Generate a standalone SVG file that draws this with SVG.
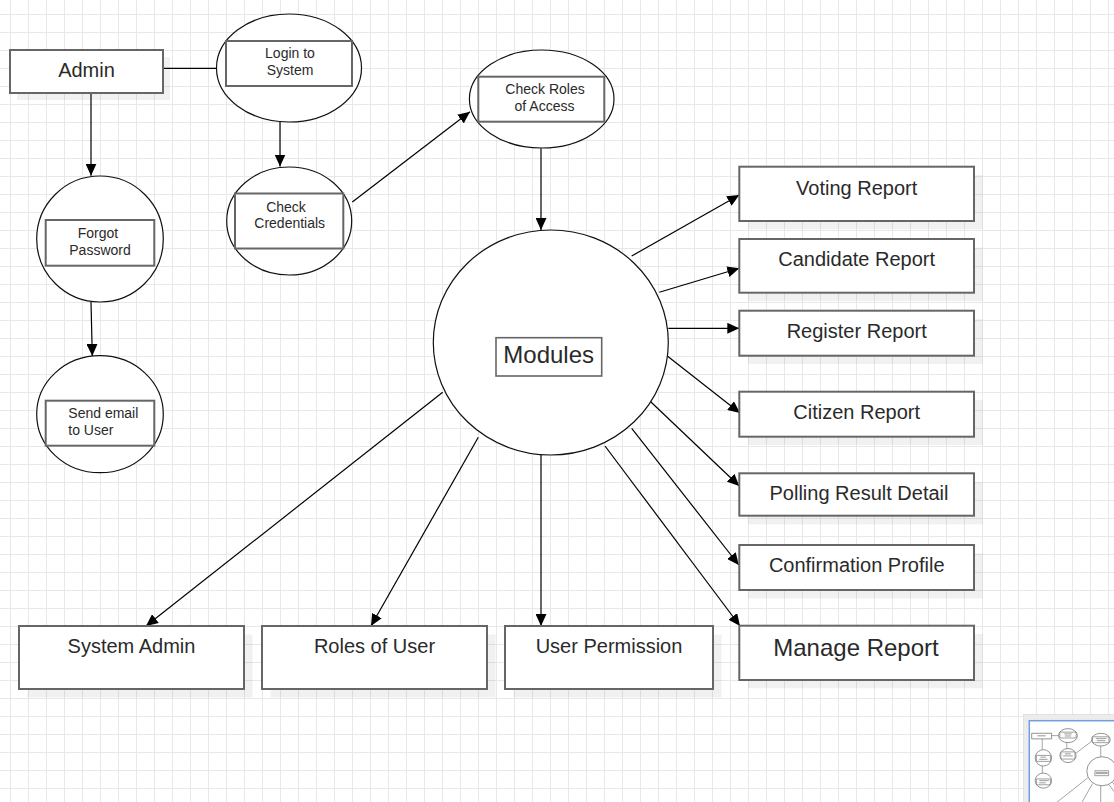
<svg xmlns="http://www.w3.org/2000/svg" width="1114" height="802" viewBox="0 0 1114 802">
<defs>
<style>
.box{fill:#fff;stroke:#666;stroke-width:2}
.shadow{fill:#000;opacity:0.055}
.ell{fill:#fff;stroke:#111;stroke-width:1.2}
.inner{fill:none;stroke:#666;stroke-width:2}
.edge{fill:none;stroke:#000;stroke-width:1.2}
.arr{marker-end:url(#arrow)}
.t{font-family:"Liberation Sans",Arial,Helvetica,sans-serif;fill:#2a2a2a}
.s14{font-size:14px}
.s20{font-size:20px}
.s24{font-size:24px}
.mm{fill:#fff;stroke:#777;stroke-width:0.8;vector-effect:non-scaling-stroke}
.mmi{fill:none;stroke:#888;stroke-width:0.8;vector-effect:non-scaling-stroke}
.mml{fill:none;stroke:#666;stroke-width:0.6;vector-effect:non-scaling-stroke}
.mmt{fill:#aaa}
</style>
<pattern id="grid" patternUnits="userSpaceOnUse" x="10" y="14" width="18" height="18">
<path d="M0.5,0 V18 M0,0.5 H18" fill="none" stroke="#e8e8e8" stroke-width="1"/>
</pattern>
<marker id="arrow" markerUnits="userSpaceOnUse" markerWidth="13" markerHeight="11" refX="12" refY="5.5" orient="auto">
<path d="M0,0 L12,5.5 L0,11 Z" fill="#000"/>
</marker>
<clipPath id="mmclip"><rect x="1023" y="714" width="91" height="88"/></clipPath>
</defs>

<rect x="0" y="0" width="1114" height="802" fill="#fff"/>
<rect x="0" y="0" width="1114" height="802" fill="url(#grid)"/>

<g id="connectors">
<path class="edge" d="M163,68.3 L216.7,68.3"/>
<path class="edge arr" d="M91,93 L91,175.7"/>
<path class="edge arr" d="M91,302 L92.3,356"/>
<path class="edge arr" d="M280,122 L280,166.5"/>
<path class="edge arr" d="M352.3,202 L470,111.7"/>
<path class="edge arr" d="M541,148.3 L541,230"/>
<path class="edge arr" d="M631.7,256 L739.3,195"/>
<path class="edge arr" d="M659.3,292.3 L739.3,268.3"/>
<path class="edge arr" d="M668.3,328.3 L739.3,328.3"/>
<path class="edge arr" d="M667.3,356 L740,413"/>
<path class="edge arr" d="M650.7,401.7 L739.3,486"/>
<path class="edge arr" d="M631.7,428.3 L738.8,565"/>
<path class="edge arr" d="M605,446 L740,626"/>
<path class="edge arr" d="M442.7,392.3 L146,626"/>
<path class="edge arr" d="M478.3,437.3 L371,626"/>
<path class="edge arr" d="M541,455 L541,626"/>
</g>

<g id="admin">
<rect class="shadow" x="17" y="57" width="153" height="43"/>
<rect class="box" x="10" y="50" width="153" height="43"/>
<text class="t s20" x="86.5" y="77" text-anchor="middle">Admin</text>
</g>

<g id="login">
<ellipse class="ell" cx="289" cy="68" rx="72.5" ry="54"/>
<rect class="inner" x="226" y="41" width="126" height="45"/>
<text class="t s14" x="290" y="58.3" text-anchor="middle">Login to</text>
<text class="t s14" x="290" y="75" text-anchor="middle">System</text>
</g>

<g id="check-credentials">
<ellipse class="ell" cx="289.2" cy="221" rx="62.5" ry="54"/>
<rect class="inner" x="235" y="193.5" width="108.3" height="55"/>
<text class="t s14" x="286" y="211.7" text-anchor="middle">Check</text>
<text class="t s14" x="289.7" y="228.3" text-anchor="middle">Credentials</text>
</g>

<g id="check-roles">
<ellipse class="ell" cx="541.7" cy="99" rx="72.3" ry="49"/>
<rect class="inner" x="478.3" y="76.7" width="126" height="45"/>
<text class="t s14" x="545" y="94.3" text-anchor="middle">Check Roles</text>
<text class="t s14" x="544.5" y="111" text-anchor="middle">of Access</text>
</g>

<g id="forgot-password">
<ellipse class="ell" cx="100" cy="239" rx="63.3" ry="63"/>
<rect class="inner" x="45.7" y="220" width="108.6" height="45.7"/>
<text class="t s14" x="98" y="238.3" text-anchor="middle">Forgot</text>
<text class="t s14" x="100" y="255" text-anchor="middle">Password</text>
</g>

<g id="send-email">
<ellipse class="ell" cx="100" cy="414.2" rx="63.3" ry="58.5"/>
<rect class="inner" x="45.7" y="400.7" width="108.6" height="45"/>
<text class="t s14" x="68.3" y="418.3">Send email</text>
<text class="t s14" x="68.3" y="435">to User</text>
</g>

<g id="modules">
<ellipse class="ell" cx="550.8" cy="342.5" rx="117.5" ry="112.5"/>
<rect class="inner" x="496" y="337.7" width="105.7" height="38.3" style="stroke-width:1.6"/>
<text class="t s24" x="548.7" y="363" text-anchor="middle">Modules</text>
</g>

<g id="voting-report">
<rect class="shadow" x="748" y="175" width="234.7" height="54.3"/>
<rect class="box" x="739.3" y="166.7" width="234.7" height="54.3"/>
<text class="t s20" x="856.7" y="194.5" text-anchor="middle">Voting Report</text>
</g>
<g id="candidate-report">
<rect class="shadow" x="748" y="247.5" width="234.7" height="53.7"/>
<rect class="box" x="739.3" y="239" width="234.7" height="53.7"/>
<text class="t s20" x="856.7" y="266" text-anchor="middle">Candidate Report</text>
</g>
<g id="register-report">
<rect class="shadow" x="748" y="319" width="234.7" height="45"/>
<rect class="box" x="739.3" y="310.7" width="234.7" height="45"/>
<text class="t s20" x="856.7" y="338.3" text-anchor="middle">Register Report</text>
</g>
<g id="citizen-report">
<rect class="shadow" x="748" y="400" width="234.7" height="45"/>
<rect class="box" x="739.3" y="391.7" width="234.7" height="45"/>
<text class="t s20" x="856.7" y="419.3" text-anchor="middle">Citizen Report</text>
</g>
<g id="polling-result-detail">
<rect class="shadow" x="748" y="482" width="234.7" height="42.4"/>
<rect class="box" x="739.3" y="473.3" width="234.7" height="42.4"/>
<text class="t s20" x="859" y="500" text-anchor="middle">Polling Result Detail</text>
</g>
<g id="confirmation-profile">
<rect class="shadow" x="748" y="553.5" width="234.7" height="45"/>
<rect class="box" x="739.3" y="545" width="234.7" height="45"/>
<text class="t s20" x="856.7" y="571.7" text-anchor="middle">Confirmation Profile</text>
</g>
<g id="manage-report">
<rect class="shadow" x="748" y="634" width="234.7" height="54.3"/>
<rect class="box" x="739.3" y="625.7" width="234.7" height="54.3"/>
<text class="t s24" x="856" y="656" text-anchor="middle">Manage Report</text>
</g>

<g id="system-admin">
<rect class="shadow" x="27.5" y="634.5" width="225" height="63"/>
<rect class="box" x="19" y="626" width="225" height="63"/>
<text class="t s20" x="131.5" y="653" text-anchor="middle">System Admin</text>
</g>
<g id="roles-of-user">
<rect class="shadow" x="270.5" y="634.5" width="225" height="63"/>
<rect class="box" x="262" y="626" width="225" height="63"/>
<text class="t s20" x="374.5" y="653" text-anchor="middle">Roles of User</text>
</g>
<g id="user-permission">
<rect class="shadow" x="513.5" y="634.5" width="208" height="63"/>
<rect class="box" x="505" y="626" width="208" height="63"/>
<text class="t s20" x="609" y="653" text-anchor="middle">User Permission</text>
</g>

<g id="minimap" clip-path="url(#mmclip)">
<rect x="1023" y="714" width="120" height="120" fill="#ececec" stroke="#d6d6d6" stroke-width="1"/>
<rect x="1029.3" y="720.7" width="120" height="120" fill="#fff" stroke="#6f9fe0" stroke-width="1.5"/>
<g transform="translate(1030.4,726.8) scale(0.13)">
<path class="mml" d="M163,68 L217,68 M91,93 L91,176 M91,302 L92,356 M280,122 L280,167 M352,202 L470,112 M541,148 L541,230 M442,392 L146,626 M478,437 L371,626 M541,455 L541,626 M605,446 L740,626 M632,428 L739,565 M651,402 L739,486"/>
<rect class="mm" x="10" y="50" width="153" height="43"/>
<ellipse class="mm" cx="289" cy="68" rx="72.5" ry="54"/>
<rect class="mmi" x="226" y="41" width="126" height="45"/>
<ellipse class="mm" cx="289" cy="221" rx="62.5" ry="54"/>
<rect class="mmi" x="235" y="193" width="108" height="55"/>
<ellipse class="mm" cx="542" cy="99" rx="72" ry="49"/>
<rect class="mmi" x="478" y="77" width="126" height="45"/>
<ellipse class="mm" cx="100" cy="239" rx="63" ry="63"/>
<rect class="mmi" x="46" y="220" width="108" height="46"/>
<ellipse class="mm" cx="100" cy="414" rx="63" ry="58"/>
<rect class="mmi" x="46" y="401" width="108" height="45"/>
<ellipse class="mm" cx="551" cy="342" rx="117" ry="112"/>
<rect class="mmi" x="496" y="338" width="106" height="38"/>
<rect class="mmt" x="55" y="64" width="62" height="10"/>
<rect class="mmt" x="260" y="50" width="58" height="9"/>
<rect class="mmt" x="265" y="66" width="48" height="9"/>
<rect class="mmt" x="265" y="203" width="45" height="9"/>
<rect class="mmt" x="252" y="219" width="74" height="9"/>
<rect class="mmt" x="504" y="86" width="82" height="9"/>
<rect class="mmt" x="512" y="102" width="64" height="9"/>
<rect class="mmt" x="77" y="229" width="42" height="9"/>
<rect class="mmt" x="68" y="246" width="64" height="9"/>
<rect class="mmt" x="68" y="409" width="74" height="9"/>
<rect class="mmt" x="68" y="426" width="50" height="9"/>
<rect class="mmt" x="503" y="347" width="92" height="17"/>
</g>
</g>
</svg>
